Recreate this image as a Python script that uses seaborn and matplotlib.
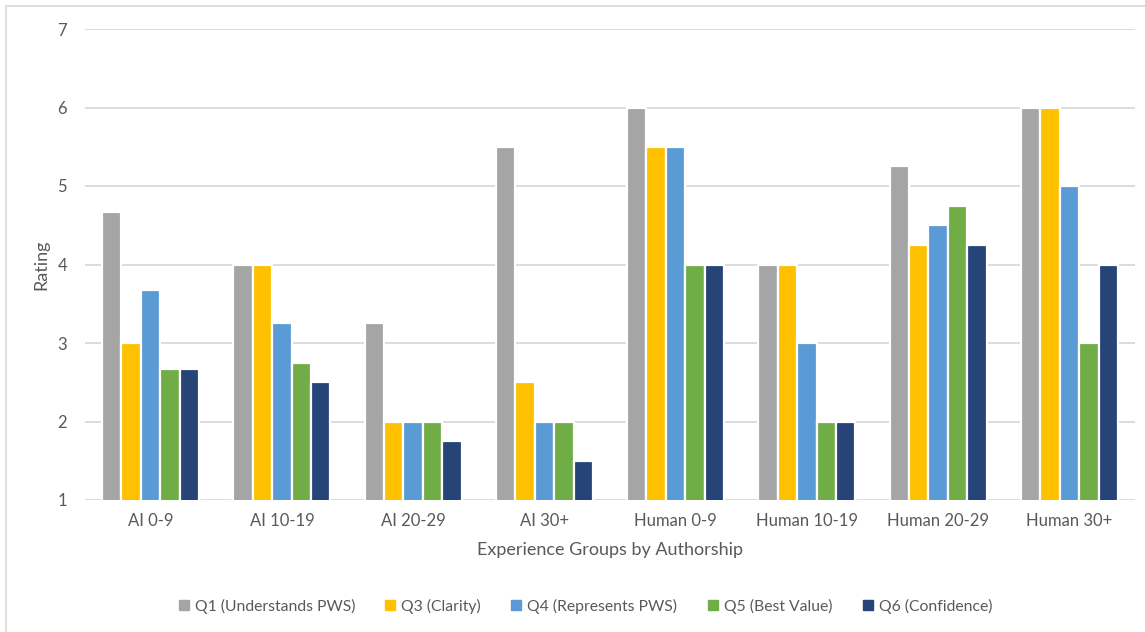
import matplotlib
matplotlib.use("Agg")
import matplotlib.pyplot as plt
import seaborn as sns
import pandas as pd
from matplotlib.lines import Line2D

# Experience groups (x categories) and question series
groups = ["AI 0-9", "AI 10-19", "AI 20-29", "AI 30+",
          "Human 0-9", "Human 10-19", "Human 20-29", "Human 30+"]
questions = ["Q1 (Understands PWS)", "Q3 (Clarity)", "Q4 (Represents PWS)",
             "Q5 (Best Value)", "Q6 (Confidence)"]

q1 = [4.67, 4.0, 3.25, 5.5, 6.0, 4.0, 5.25, 6.0]
q3 = [3.0, 4.0, 2.0, 2.5, 5.5, 4.0, 4.25, 6.0]
q4 = [3.67, 3.25, 2.0, 2.0, 5.5, 3.0, 4.5, 5.0]
q5 = [2.67, 2.75, 2.0, 2.0, 4.0, 2.0, 4.75, 3.0]
q6 = [2.67, 2.5, 1.75, 1.5, 4.0, 2.0, 4.25, 4.0]

colors = ["#A5A5A5", "#FFC000", "#5B9BD5", "#70AD47", "#264478"]

rows = []
for q, vals in zip(questions, [q1, q3, q4, q5, q6]):
    for g, v in zip(groups, vals):
        rows.append({"Group": g, "Question": q, "Rating": v})
df = pd.DataFrame(rows)

sns.set_theme(style="white")
plt.rcParams["font.family"] = ["Lato", "DejaVu Sans"]
text_color = "#595959"

fig = plt.figure(figsize=(11.45, 6.32), dpi=100)
ax = fig.add_axes([85 / 1145, 1 - 500 / 632, 1050 / 1145, 471 / 632])

sns.barplot(data=df, x="Group", y="Rating", hue="Question",
            hue_order=questions, order=groups, palette=colors,
            width=0.74, edgecolor="white", linewidth=1.6,
            saturation=1, ax=ax, legend=True, zorder=3)

ax.set_ylim(1, 7)
ax.set_xlim(-0.5, len(groups) - 0.5)
ax.set_yticks(range(1, 8))
ax.yaxis.grid(True, color="#D9D9D9", linewidth=1.3, zorder=0)
ax.set_axisbelow(True)
for s in ax.spines.values():
    s.set_visible(False)
ax.tick_params(axis="both", length=0, labelsize=12, colors=text_color)
ax.tick_params(axis="y", pad=13)
ax.tick_params(axis="x", pad=9)
ax.set_xlabel("Experience Groups by Authorship", fontsize=13,
              color=text_color, labelpad=10)
ax.set_ylabel("Rating", fontsize=13, color=text_color, labelpad=6)

ax.get_legend().remove()
handles = [Line2D([0], [0], marker="s", linestyle="none", markersize=7,
                  markerfacecolor=c, markeredgecolor=c) for c in colors]
fig.legend(handles, questions, loc="center", bbox_to_anchor=(0.511, 1 - 606 / 632),
           ncol=5, frameon=False, fontsize=11.3, handlelength=0.7,
           handletextpad=0.35, columnspacing=1.9, labelcolor=text_color)

# Chart frame lines (top and left)
fig.add_artist(Line2D([6 / 1145, 1], [1 - 6 / 632, 1 - 6 / 632],
                      color="#D9D9D9", linewidth=1.2, transform=fig.transFigure))
fig.add_artist(Line2D([6 / 1145, 6 / 1145], [0, 1 - 6 / 632],
                      color="#D9D9D9", linewidth=1.2, transform=fig.transFigure))

fig.savefig("out.png", dpi=100)
